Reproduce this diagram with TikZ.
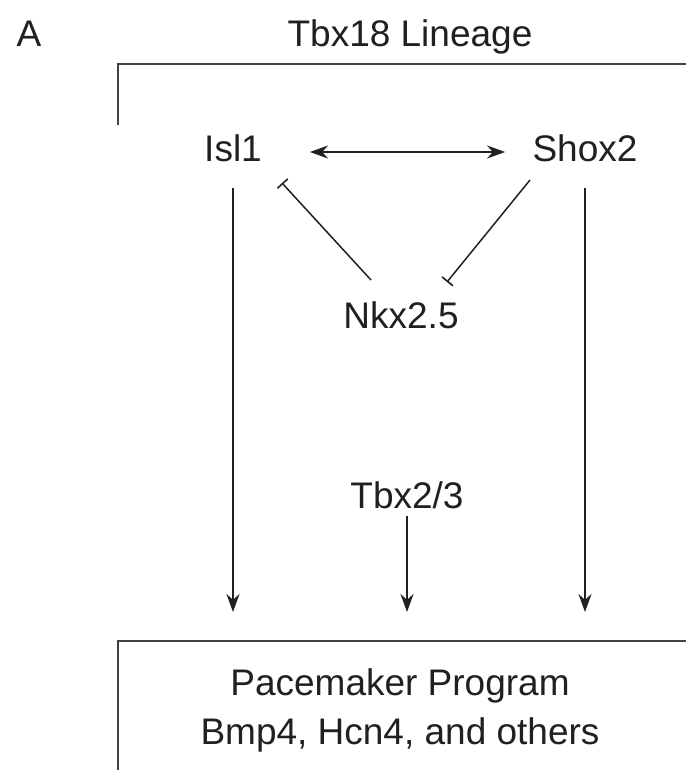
\documentclass[tikz,border=0pt]{standalone}
\usepackage{fontspec}
\setmainfont{Liberation Sans}
\usetikzlibrary{arrows.meta}
\definecolor{ink}{HTML}{231F20}
\begin{document}
\begin{tikzpicture}[x=1pt,y=-1pt,
  lbl/.style={anchor=base,inner sep=0pt,text=ink,font=\fontsize{37}{44}\selectfont},
  conn/.style={draw=ink,line width=1.5pt},
  act/.style={conn,-{Stealth[length=18pt,width=13pt]}},
  inh/.style={conn,-{Bar[width=14pt,line width=1.6pt]}},
  frame/.style={draw=ink!85,line width=2pt}]
\useasboundingbox (0,0) rectangle (686,770);
\fill[white] (0,0) rectangle (686,770);
% labels
\node[lbl] (A) at (29,47) {A};
\node[lbl] (title) at (410,47) {Tbx18 Lineage};
\node[lbl] (isl) at (233,162) {Isl1};
\node[lbl] (shox) at (585,162) {Shox2};
\node[lbl] (nkx) at (401,328) {Nkx2.5};
\node[lbl] (tbx) at (407,508) {Tbx2/3};
\node[lbl] (pm1) at (400,695) {Pacemaker Program};
\node[lbl] (pm2) at (400,744) {Bmp4, Hcn4, and others};
% frames
\draw[frame] (118,125) -- (118,64) -- (686,64);
\draw[frame] (118,770) -- (118,641) -- (686,641);
% coordinates
\coordinate (a1s) at (233,188);
\coordinate (a1e) at (233,612);
\coordinate (a2s) at (407,516);
\coordinate (a2e) at (407,612);
\coordinate (a3s) at (585,188);
\coordinate (a3e) at (585,612);
\coordinate (dl) at (310,152);
\coordinate (dr) at (505,152);
\coordinate (i1s) at (371,280);
\coordinate (i1e) at (282,183);
\coordinate (i2s) at (530,180);
\coordinate (i2e) at (447,282);
% connectors
\draw[act] (a1s) -- (a1e);
\draw[act] (a2s) -- (a2e);
\draw[act] (a3s) -- (a3e);
\draw[conn,{Stealth[length=18pt,width=13pt]}-{Stealth[length=18pt,width=13pt]}] (dl) -- (dr);
\draw[inh] (i1s) -- (i1e);
\draw[inh] (i2s) -- (i2e);
\end{tikzpicture}
\end{document}
